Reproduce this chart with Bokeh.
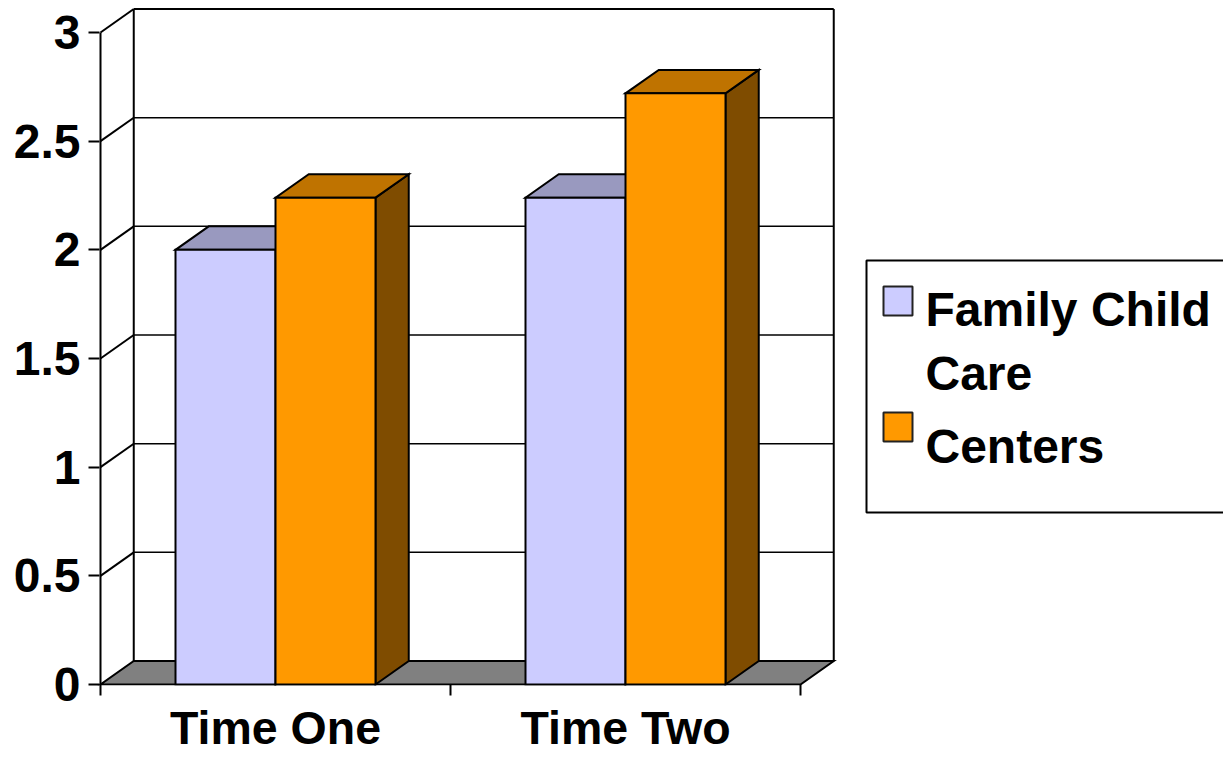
from bokeh.plotting import figure
from bokeh.models import Range1d, FixedTicker, BoxAnnotation, Label
from bokeh.embed import file_html
from bokeh.resources import INLINE

# ---- data -------------------------------------------------------------
categories = ["Time One", "Time Two"]
series_names = ["Family Child Care", "Centers"]
family_child_care = [2.0, 2.24]
centers = [2.24, 2.72]
value_ticks = [0, 0.5, 1, 1.5, 2, 2.5, 3]
value_tick_labels = ["0", "0.5", "1", "1.5", "2", "2.5", "3"]
legend_lines = [["Family Child", "Care"], ["Centers"]]

# ---- style ------------------------------------------------------------
FONT = "Liberation Sans"
# (front, top, side) shades for each series
SHADES = [("#CCCCFF", "#9999BF", "#666680"),
          ("#FF9900", "#BF7300", "#7F4C00")]
FLOOR = "#808080"
GAP_WIDTH = 1.5          # gap between clusters, in bar widths
DX, DY = 0.095, 0.108    # oblique depth offset (x units, value units)
PX_X, PX_Y = 350.0, 217.33   # pixels per x unit / per value unit
W, H = 1223, 757
LEFT, BOTTOM = 96, 72          # border sizes around the plot frame
ORIGIN_X, ORIGIN_Y = 100, 684  # canvas pixel of the (0, 0) corner
FRAME_BOTTOM = H - BOTTOM

n_cat = len(categories)
n_ser = len(series_names)
bar_w = 1.0 / (n_ser + GAP_WIDTH)
vmax = value_ticks[-1]

x0 = -(ORIGIN_X - LEFT) / PX_X
y0 = -(FRAME_BOTTOM - ORIGIN_Y) / PX_Y
p = figure(width=W, height=H,
           x_range=Range1d(x0, x0 + (W - LEFT) / PX_X),
           y_range=Range1d(y0, y0 + FRAME_BOTTOM / PX_Y),
           output_backend="svg", toolbar_location=None,
           min_border_left=LEFT, min_border_right=0,
           min_border_top=0, min_border_bottom=BOTTOM)
p.outline_line_color = None
p.xgrid.visible = False
p.ygrid.visible = False
p.background_fill_color = "white"

# ---- walls and floor ---------------------------------------------------
p.patch([0, n_cat, n_cat + DX, DX], [0, 0, DY, DY],
        fill_color=FLOOR, line_color="black", line_width=2,
        line_join="miter")

edge_xs, edge_ys = [], []
edge_xs.append([0, 0]); edge_ys.append([0, vmax])
for v in value_ticks[1:]:
    edge_xs.append([0, DX]); edge_ys.append([v, v + DY])
edge_xs.append([DX, DX]); edge_ys.append([DY, vmax + DY])
edge_xs.append([n_cat + DX, n_cat + DX]); edge_ys.append([DY, vmax + DY])
edge_xs.append([DX, n_cat + DX]); edge_ys.append([vmax + DY, vmax + DY])
p.multi_line(edge_xs, edge_ys, line_color="black", line_width=2)

grid_xs, grid_ys = [], []
for v in value_ticks[1:-1]:
    grid_xs.append([DX, n_cat + DX]); grid_ys.append([v + DY, v + DY])
p.multi_line(grid_xs, grid_ys, line_color="black", line_width=1.5)

# ---- 3-D columns -------------------------------------------------------
for j, values in enumerate([family_child_care, centers]):
    front_c, top_c, side_c = SHADES[j]
    lefts = [i + bar_w * GAP_WIDTH / 2 + j * bar_w for i in range(n_cat)]
    rights = [l + bar_w for l in lefts]
    side_xs = [[r, r + DX, r + DX, r] for r in rights]
    side_ys = [[0, DY, v + DY, v] for v in values]
    top_xs = [[l, r, r + DX, l + DX] for l, r in zip(lefts, rights)]
    top_ys = [[v, v, v + DY, v + DY] for v in values]
    p.patches(side_xs, side_ys, fill_color=side_c, line_color="black",
              line_width=2, line_join="miter")
    p.patches(top_xs, top_ys, fill_color=top_c, line_color="black",
              line_width=2, line_join="miter")
    p.quad(left=lefts, right=rights, bottom=0, top=values,
           fill_color=front_c, line_color="black", line_width=2,
           line_join="miter")

# ---- axes --------------------------------------------------------------
ya = p.yaxis[0]
ya.ticker = FixedTicker(ticks=value_ticks)
ya.major_label_overrides = {t: s for t, s in zip(value_ticks, value_tick_labels)}
ya.axis_line_color = None
ya.major_tick_in = 3
ya.major_tick_out = 8
ya.major_tick_line_width = 2
ya.minor_tick_line_color = None
ya.major_label_standoff = 8
ya.major_label_text_font = FONT
ya.major_label_text_font_style = "bold"
ya.major_label_text_font_size = "48px"
ya.major_label_text_color = "black"

xa = p.xaxis[0]
centers_x = [i + 0.5 for i in range(n_cat)]
xa.ticker = FixedTicker(ticks=centers_x, minor_ticks=list(range(n_cat + 1)))
xa.major_label_overrides = {c: s for c, s in zip(centers_x, categories)}
xa.axis_line_color = None
xa.major_tick_line_color = None
xa.minor_tick_in = 1
xa.minor_tick_out = 10
xa.minor_tick_line_width = 2
xa.minor_tick_line_color = "black"
xa.major_label_standoff = 6
xa.major_label_text_font = FONT
xa.major_label_text_font_style = "bold"
xa.major_label_text_font_size = "46.5px"
xa.major_label_text_color = "black"

# ---- legend (drawn in screen units, relative to the frame) ---------------
def sx(px):
    return px - LEFT


def sy(py):
    return FRAME_BOTTOM - py


LEG_LEFT, LEG_TOP, LEG_BOTTOM = 866, 260, 512
SWATCH_LEFT, SWATCH = 883, 29
TEXT_LEFT = 925
swatch_tops = [286, 412]
baselines = [[309, 373], [446]]

p.add_layout(BoxAnnotation(left=sx(LEG_LEFT), right=sx(W + 20),
                           top=sy(LEG_TOP), bottom=sy(LEG_BOTTOM),
                           left_units="screen", right_units="screen",
                           top_units="screen", bottom_units="screen",
                           fill_color="white", fill_alpha=1.0,
                           line_color="black", line_alpha=1.0,
                           line_width=2))
for j in range(n_ser):
    p.add_layout(BoxAnnotation(left=sx(SWATCH_LEFT), right=sx(SWATCH_LEFT + SWATCH),
                               top=sy(swatch_tops[j]),
                               bottom=sy(swatch_tops[j] + SWATCH),
                               left_units="screen", right_units="screen",
                               top_units="screen", bottom_units="screen",
                               fill_color=SHADES[j][0], fill_alpha=1.0,
                               line_color="#222222", line_alpha=1.0,
                               line_width=2))
    for line, base in zip(legend_lines[j], baselines[j]):
        p.add_layout(Label(x=sx(TEXT_LEFT), y=sy(base), text=line,
                           x_units="screen", y_units="screen",
                           text_font=FONT, text_font_style="bold",
                           text_font_size="48px", text_color="black",
                           text_baseline="alphabetic", text_align="left"))

open("out.html", "w").write(file_html(p, INLINE))
